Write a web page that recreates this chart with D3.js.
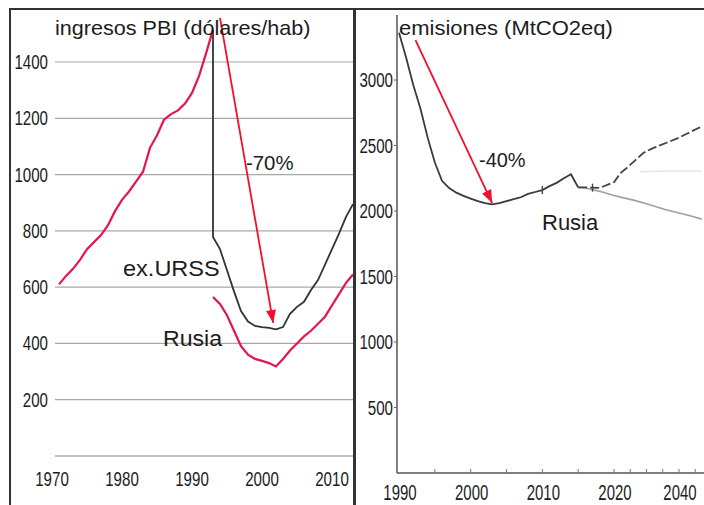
<!DOCTYPE html>
<html>
<head>
<style>
  body { margin: 0; background: #fff; }
  svg text { font-family: "Liberation Sans", Arial, sans-serif; fill: #1c1c1c; }
</style>
</head>
<body>
<script src="https://cdn.jsdelivr.net/npm/d3@7"></script>
<script>
// left panel: ingresos PBI (dolares/hab)
const gdpTicks = [200, 400, 600, 800, 1000, 1200, 1400];
const gdpYearTicks = [1970, 1980, 1990, 2000, 2010];
const ussrYears = [1971, 1972, 1973, 1974, 1975, 1976, 1977, 1978, 1979, 1980, 1981, 1982,
  1983, 1984, 1985, 1986, 1987, 1988, 1989, 1990, 1991, 1992, 1993];
const ussrGdp = [610, 640, 665, 697, 735, 760, 785, 820, 870, 910, 940, 975,
  1010, 1095, 1140, 1195, 1215, 1228, 1252, 1290, 1350, 1430, 1515];
const exUrssYears = [1993, 1993, 1994, 1995, 1996, 1997, 1998, 1999, 2000, 2001, 2002, 2003,
  2004, 2005, 2006, 2007, 2008, 2009, 2010, 2011, 2012, 2013];
const exUrssGdp = [1515, 778, 735, 660, 585, 515, 478, 462, 458, 455, 450, 458,
  505, 530, 548, 590, 625, 680, 735, 790, 850, 895];
const russiaYears = [1993, 1994, 1995, 1996, 1997, 1998, 1999, 2000, 2001, 2002, 2003,
  2004, 2005, 2006, 2007, 2008, 2009, 2010, 2011, 2012, 2013];
const russiaGdp = [565, 540, 500, 445, 390, 360, 345, 338, 330, 318, 345,
  375, 400, 425, 445, 470, 495, 535, 575, 615, 645];
const gdpArrow = [[1994, 1557], [2001.6, 473]];

// right panel: emisiones (MtCO2eq)
const co2Ticks = [500, 1000, 1500, 2000, 2500, 3000];
const co2YearTicks = [1990, 2000, 2010, 2020, 2040];
const co2MinorTicks = [1995, 2000, 2005, 2010, 2015, 2020, 2025, 2030, 2035, 2040, 2045];
const co2Years = [1990, 1991, 1992, 1993, 1994, 1995, 1996, 1997, 1998, 1999, 2000, 2001, 2002,
  2003, 2004, 2005, 2006, 2007, 2008, 2009, 2010, 2011, 2012, 2013, 2014, 2015];
const co2 = [3360, 3170, 2960, 2780, 2560, 2370, 2230, 2175, 2140, 2115, 2095, 2075, 2060,
  2050, 2060, 2075, 2090, 2105, 2130, 2145, 2160, 2190, 2215, 2250, 2280, 2180];
const highYears = [2015, 2016, 2018, 2020, 2022, 2024, 2026, 2029, 2032, 2036, 2040, 2044, 2047];
const highCo2 = [2180, 2180, 2176, 2220, 2290, 2330, 2375, 2443, 2480, 2519, 2560, 2610, 2645];
const lowYears = [2015, 2016, 2018, 2020, 2023, 2026, 2030, 2036, 2040, 2044, 2047];
const lowCo2 = [2180, 2176, 2150, 2118, 2100, 2083, 2055, 2010, 1985, 1960, 1938];
const midYears = [2028, 2036, 2047];
const midCo2 = [2300, 2305, 2305];
const co2Markers = [[2010, 2160], [2017, 2178]];
const co2Arrow = [[1992.3, 3305], [2003, 2061]];

const width = 704, height = 505;
const svg = d3.select('body').append('svg').attr('width', width).attr('height', height);

const defs = svg.append('defs');
defs.append('marker')
  .attr('id', 'head').attr('markerUnits', 'userSpaceOnUse')
  .attr('markerWidth', 13).attr('markerHeight', 10)
  .attr('refX', 13).attr('refY', 5).attr('orient', 'auto')
  .append('path').attr('d', 'M0,0L13,5L0,10Z').attr('fill', '#f0102e');

function label(g, x, y, txt, size, sx, anchor) {
  return g.append('text')
    .attr('transform', `translate(${x},${y}) scale(${sx},1)`)
    .attr('text-anchor', anchor || 'start')
    .attr('font-size', size)
    .text(txt);
}

// ---------- left panel ----------
const xL = d3.scaleLinear().domain([1970, 2013]).range([52, 353]);
const yL = d3.scaleLinear().domain([0, 1400]).range([456, 62]);
const gL = svg.append('g');

gL.selectAll('line.grid')
  .data([0].concat(gdpTicks))
  .enter().append('line')
  .attr('x1', 55).attr('x2', 353)
  .attr('y1', d => yL(d)).attr('y2', d => yL(d))
  .attr('stroke', d => d === 0 ? '#888' : '#a8a8a8')
  .attr('stroke-width', 1.2);

gdpTicks.forEach(t => label(gL, 48, yL(t) + 7, t, 21, 0.72, 'end'));
gdpYearTicks.forEach(t => label(gL, xL(t), 486, t, 21, 0.72, 'middle'));

const lineL = d3.line().x(d => xL(d[0])).y(d => yL(d[1]));
gL.append('path')
  .attr('d', lineL(d3.zip(exUrssYears, exUrssGdp)))
  .attr('fill', 'none').attr('stroke', '#333').attr('stroke-width', 1.8);
gL.append('path')
  .attr('d', lineL(d3.zip(ussrYears, ussrGdp)))
  .attr('fill', 'none').attr('stroke', '#e3174b').attr('stroke-width', 2.2);
gL.append('path')
  .attr('d', lineL(d3.zip(russiaYears, russiaGdp)))
  .attr('fill', 'none').attr('stroke', '#e3174b').attr('stroke-width', 2.2);

gL.append('line')
  .attr('x1', xL(gdpArrow[0][0])).attr('y1', yL(gdpArrow[0][1]))
  .attr('x2', xL(gdpArrow[1][0])).attr('y2', yL(gdpArrow[1][1]))
  .attr('stroke', '#f0102e').attr('stroke-width', 1.8)
  .attr('marker-end', 'url(#head)');

label(gL, 55, 35, 'ingresos PBI (dólares/hab)', 20, 1.08);
label(gL, 246, 170, '-70%', 21, 0.97);
label(gL, 123, 276, 'ex.URSS', 22, 1.07);
label(gL, 163, 346, 'Rusia', 22, 1.05);

// ---------- right panel ----------
const xR = d3.scaleLinear().domain([1990, 2020, 2040]).range([399, 614, 679]);
const yR = d3.scaleLinear().domain([0, 3000]).range([473, 80]);
const gR = svg.append('g');

gR.append('line').attr('x1', 397).attr('x2', 397).attr('y1', 15).attr('y2', 473)
  .attr('stroke', '#555').attr('stroke-width', 1.5);
gR.append('line').attr('x1', 397).attr('x2', width).attr('y1', 473).attr('y2', 473)
  .attr('stroke', '#555').attr('stroke-width', 1.5);

gR.selectAll('line.ytick').data(co2Ticks).enter().append('line')
  .attr('x1', 394).attr('x2', 397)
  .attr('y1', d => yR(d)).attr('y2', d => yR(d))
  .attr('stroke', '#666');
gR.selectAll('line.xtick').data(co2MinorTicks).enter().append('line')
  .attr('x1', d => xR(d)).attr('x2', d => xR(d))
  .attr('y1', 473).attr('y2', 469)
  .attr('stroke', '#777');

co2Ticks.forEach(t => label(gR, 393, yR(t) + 7, t, 21, 0.72, 'end'));
co2YearTicks.forEach(t => label(gR, xR(t) + 1, 500, t, 22, 0.68, 'middle'));

const lineR = d3.line().x(d => xR(d[0])).y(d => yR(d[1]));
gR.append('path')
  .attr('d', lineR(d3.zip(midYears, midCo2)))
  .attr('fill', 'none').attr('stroke', '#e4e4e4').attr('stroke-width', 1.5);
gR.append('path')
  .attr('d', lineR(d3.zip(lowYears, lowCo2)))
  .attr('fill', 'none').attr('stroke', '#a0a0a0').attr('stroke-width', 1.6);
gR.append('path')
  .attr('d', lineR(d3.zip(highYears, highCo2)))
  .attr('fill', 'none').attr('stroke', '#444').attr('stroke-width', 1.8)
  .attr('stroke-dasharray', '9,3');
gR.append('path')
  .attr('d', lineR(d3.zip(co2Years, co2)))
  .attr('fill', 'none').attr('stroke', '#3a3a3a').attr('stroke-width', 1.8);
gR.selectAll('line.mark').data(co2Markers).enter().append('line')
  .attr('x1', d => xR(d[0])).attr('x2', d => xR(d[0]))
  .attr('y1', d => yR(d[1]) - 4).attr('y2', d => yR(d[1]) + 4)
  .attr('stroke', '#444').attr('stroke-width', 1.4);

gR.append('line')
  .attr('x1', xR(co2Arrow[0][0])).attr('y1', yR(co2Arrow[0][1]))
  .attr('x2', xR(co2Arrow[1][0])).attr('y2', yR(co2Arrow[1][1]))
  .attr('stroke', '#f0102e').attr('stroke-width', 1.8)
  .attr('marker-end', 'url(#head)');

label(gR, 399, 35, 'emisiones (MtCO2eq)', 20, 1.1);
label(gR, 479, 167, '-40%', 21, 0.95);
label(gR, 542, 230, 'Rusia', 22, 1.0);

// frame
svg.append('path')
  .attr('d', `M10,${height}V9H${width}`)
  .attr('fill', 'none').attr('stroke', '#333').attr('stroke-width', 2);
svg.append('line').attr('x1', 354.5).attr('x2', 354.5).attr('y1', 9).attr('y2', height)
  .attr('stroke', '#333').attr('stroke-width', 3);
</script>
</body>
</html>
